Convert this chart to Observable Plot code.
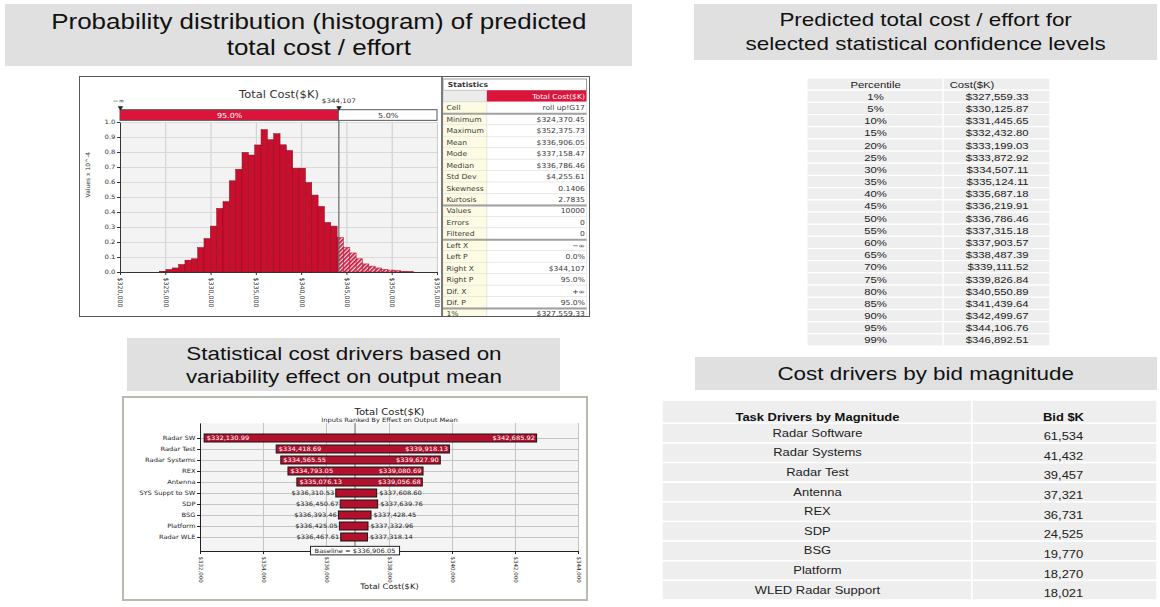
<!DOCTYPE html>
<html><head><meta charset="utf-8">
<script src="https://cdn.jsdelivr.net/npm/d3@7"></script>
<script src="https://cdn.jsdelivr.net/npm/@observablehq/plot@0.6"></script>
<style>
body{margin:0;background:#fff;}
#root{position:relative;width:1160px;height:607px;overflow:hidden;background:#fff;font-family:Arial,"Liberation Sans",sans-serif;color:#111;}
.hdr{position:absolute;background:#e0e0e0;display:flex;align-items:center;justify-content:center;text-align:center;}
.hdr span{display:inline-block;transform:scaleX(1.18);white-space:nowrap;}
.box{position:absolute;overflow:hidden;}
.box svg{display:block;max-width:none;}
.frame{position:absolute;box-sizing:border-box;pointer-events:none;}
</style></head><body>
<svg width="0" height="0" style="position:absolute"><defs>
<pattern id="hatch" patternUnits="userSpaceOnUse" width="3" height="3" patternTransform="rotate(45)"><rect width="3" height="3" fill="#f7dde2"/><rect width="1.7" height="3" fill="#c8143a"/></pattern>
</defs></svg>
<div id="root">
 <div class="hdr" style="left:5px;top:4px;width:627px;height:62px;font-size:22px;line-height:26px"><span>Probability distribution (histogram) of predicted<br>total cost / effort</span></div>
 <div class="hdr" style="left:694px;top:4px;width:463px;height:56px;font-size:19px;line-height:24px"><span>Predicted total cost / effort for<br>selected statistical confidence levels</span></div>
 <div class="hdr" style="left:127px;top:338px;width:433px;height:53px;font-size:19px;line-height:23px"><span>Statistical cost drivers based on<br>variability effect on output mean</span></div>
 <div class="hdr" style="left:695px;top:357px;width:462px;height:33px;font-size:19px;line-height:23px"><span>Cost drivers by bid magnitude</span></div>
</div>
<script>
// ---------------- data ----------------
const histDensity = [0.005, 0.017, 0.027, 0.050, 0.079, 0.088, 0.163, 0.223, 0.306, 0.424,
  0.469, 0.608, 0.685, 0.797, 0.780, 0.847, 0.949, 0.882, 0.922, 0.848,
  0.810, 0.692, 0.692, 0.596, 0.513, 0.437, 0.330, 0.306, 0.230, 0.164,
  0.127, 0.088, 0.054, 0.039, 0.027, 0.018, 0.013, 0.009, 0.005, 0.002];
const histMin = 324370.45, histMax = 352375.73;
const histXTicks = [320000, 325000, 330000, 335000, 340000, 345000, 350000, 355000];
const histYTicks = [0, 0.1, 0.2, 0.3, 0.4, 0.5, 0.6, 0.7, 0.8, 0.9, 1.0];
const cutValue = 344107;
const leftLabel = "95.0%", rightLabel = "5.0%";

const statLabels = ["Cell","Minimum","Maximum","Mean","Mode","Median","Std Dev","Skewness","Kurtosis",
  "Values","Errors","Filtered","Left X","Left P","Right X","Right P","Dif. X","Dif. P","1%"];
const statValues = ["roll up!G17","$324,370.45","$352,375.73","$336,906.05","$337,158.47","$336,786.46",
  "$4,255.61","0.1406","2.7835","10000","0","0","−∞","0.0%","$344,107","95.0%","+∞","95.0%","$327,559.33"];
const statGroupStarts = ["Minimum","Values","Left X","1%"];

const percentiles = ["1%","5%","10%","15%","20%","25%","30%","35%","40%","45%","50%",
  "55%","60%","65%","70%","75%","80%","85%","90%","95%","99%"];
const percentileCosts = [327559.33, 330125.87, 331445.65, 332432.80, 333199.03, 333872.92, 334507.11,
  335124.11, 335687.18, 336219.91, 336786.46, 337315.18, 337903.57, 338487.39, 339111.52,
  339826.84, 340550.89, 341439.64, 342499.67, 344106.76, 346892.51];

const driverNames = ["Radar SW","Radar Test","Radar Systems","REX","Antenna","SYS Suppt to SW","SDP","BSG","Platform","Radar WLE"];
const driverLow = [332130.99, 334418.69, 334565.55, 334793.05, 335076.13, 336310.53, 336450.67, 336393.46, 336425.05, 336467.61];
const driverHigh = [342685.92, 339918.13, 339627.90, 339080.69, 339056.68, 337608.60, 337639.76, 337428.45, 337332.96, 337318.14];
const baselineMean = 336906.05;
const tornadoTicks = [332000, 334000, 336000, 338000, 340000, 342000, 344000];

const bidTasks = ["Radar Software","Radar Systems","Radar Test","Antenna","REX","SDP","BSG","Platform","WLED Radar Support"];
const bidValues = [61534, 41432, 39457, 37321, 36731, 24525, 19770, 18270, 18021];

// ---------------- helpers ----------------
const root = document.getElementById("root");
const money2 = d3.format("$,.2f");
const money0 = d3.format("$,");
function place(el, left, top, w, h) {
  const d = document.createElement("div");
  d.className = "box";
  d.style.cssText = `left:${left}px;top:${top}px;width:${w}px;height:${h}px`;
  d.appendChild(el); root.appendChild(d); return d;
}
function frameDiv(left, top, w, h, css) {
  const d = document.createElement("div");
  d.className = "frame";
  d.style.cssText = `left:${left}px;top:${top}px;width:${w}px;height:${h}px;${css}`;
  root.appendChild(d);
}
// widen horizontal text about its anchor point (the reference is horizontally stretched)
function stretchText(svg, k) {
  svg.querySelectorAll("text").forEach(t => {
    const tr = t.getAttribute("transform") || "";
    if (/rotate/.test(tr)) return;
    t.setAttribute("transform", `${tr} scale(${k},1)`);
  });
}

// ---------------- histogram ----------------
const binW = (histMax - histMin) / histDensity.length;
const hbins = histDensity.map((v, i) => ({x1: histMin + i * binW, x2: histMin + (i + 1) * binW, v}));
const hist = Plot.plot({
  width: 361, height: 239, marginLeft: 40, marginRight: 4, marginTop: 45, marginBottom: 44,
  style: {fontFamily: "DejaVu Sans, sans-serif", fontSize: "6px", color: "#333", background: "transparent"},
  x: {domain: [320000, 355000]},
  y: {domain: [0, 1]},
  marks: [
    Plot.frame({fill: "#f3f3f3"}),
    Plot.gridX(histXTicks, {stroke: "#cdcdcd", strokeOpacity: 1}),
    Plot.gridY(histYTicks, {stroke: "#d9d9d9", strokeOpacity: 1}),
    Plot.rectY(hbins.filter(d => d.x1 < cutValue), {x1: "x1", x2: d => Math.min(d.x2, cutValue), y: "v", fill: "#c8102e", stroke: "#8c0a22", strokeWidth: 0.5}),
    Plot.rectY(hbins.filter(d => d.x2 > cutValue), {x1: d => Math.max(d.x1, cutValue), x2: "x2", y: "v", fill: "url(#hatch)", stroke: "#b8102c", strokeWidth: 0.5}),
    Plot.ruleX([cutValue], {y1: 0, y2: 1.082, stroke: "#6a6a6a", strokeWidth: 1.2}),
    Plot.frame({stroke: "#333", fill: "none", strokeDasharray: "0 467 467"}),
    Plot.axisX(histXTicks, {tickFormat: money0, tickRotate: 90, tickSize: 3, tickPadding: 2, label: null, fontSize: 6.3}),
    Plot.axisY(histYTicks, {tickFormat: d3.format(".1f"), tickSize: 3, tickPadding: 2, label: null}),
    Plot.text(["Values x 10^-4"], {frameAnchor: "left", dx: -32, rotate: -90, fontSize: 6}),
    Plot.rect([0], {x1: 320000, x2: cutValue, y1: 1.011, y2: 1.082, fill: "#dc143c", stroke: "#555"}),
    Plot.rect([0], {x1: cutValue, x2: 355000, y1: 1.011, y2: 1.082, fill: "white", stroke: "#555"}),
    Plot.text([leftLabel], {x: (320000 + cutValue) / 2, y: 1.047, fill: "white", fontSize: 7}),
    Plot.text([rightLabel], {x: (cutValue + 355000) / 2, y: 1.047, fill: "#333", fontSize: 7}),
    Plot.text([320000, cutValue], {x: d => d, y: 1.097, text: () => "▼", fill: "#222", fontSize: 6}),
    Plot.text(["−∞"], {x: 320000, y: 1.145, dx: -2, fontSize: 6.2}),
    Plot.text([cutValue], {x: d => d, y: 1.145, text: d => money0(d), fontSize: 6.2}),
    Plot.text(["Total Cost($K)"], {frameAnchor: "top", dy: -32, fontSize: 10, fill: "#333"})
  ]
});
place(hist, 80, 77, 361, 239);
stretchText(hist, 1.15);

// ---------------- statistics table ----------------
const statRows = statLabels.map((l, i) => ({label: l, value: statValues[i], i: i + 2}));
const sepRows = statRows.filter(d => statGroupStarts.includes(d.label));
const sSplit = 0.303;
const stats = Plot.plot({
  width: 145, height: 243, marginTop: 2, marginBottom: 0.5, marginLeft: 0, marginRight: 0,
  style: {fontFamily: "DejaVu Sans, sans-serif", fontSize: "6.9px", color: "#444", background: "transparent"},
  x: {domain: [0, 1], axis: null},
  y: {domain: [-0.5, 20.5], reverse: true, axis: null},
  marks: [
    Plot.rect([0], {x1: 0, x2: 0.99, y1: -0.5, y2: 0.5, fill: "white", stroke: "#9a9a9a"}),
    Plot.text(["Statistics"], {x: 0.03, y: 0, textAnchor: "start", fontWeight: "bold", fill: "#333"}),
    Plot.rect([0], {x1: 0, x2: sSplit, y1: 0.5, y2: 1.5, fill: "#ececec", stroke: "#cccccc"}),
    Plot.rect([0], {x1: sSplit, x2: 0.99, y1: 0.5, y2: 1.5, fill: "#dc143c"}),
    Plot.text(["Total Cost($K)"], {x: 0.975, y: 1, textAnchor: "end", fill: "white"}),
    Plot.rect(statRows, {x1: 0, x2: sSplit, y1: d => d.i - 0.5, y2: d => d.i + 0.5, fill: "#fdfbe2", stroke: "#e2e2e2", strokeWidth: 0.6}),
    Plot.rect(statRows, {x1: sSplit, x2: 0.99, y1: d => d.i - 0.5, y2: d => d.i + 0.5, fill: "white", stroke: "#e2e2e2", strokeWidth: 0.6}),
    Plot.ruleY(sepRows, {y: d => d.i - 0.5, x1: 0, x2: 0.99, stroke: "#a0a0a0", strokeWidth: 2}),
    Plot.text(statRows, {x: 0.02, y: "i", text: "label", textAnchor: "start", fill: "#3a3a3a"}),
    Plot.text(statRows, {x: 0.975, y: "i", text: "value", textAnchor: "end", fill: "#3a3a3a"})
  ]
});
place(stats, 443, 77, 145, 239);
stretchText(stats, 1.1);

// ---------------- percentile table ----------------
const pRows = percentiles.map((p, i) => ({p, c: percentileCosts[i], i: i + 1}));
const pAll = [{i: 0}, ...pRows];
const pSplit = 0.56;
const ptab = Plot.plot({
  width: 243, height: 270, marginTop: 1, marginBottom: 1, marginLeft: 0, marginRight: 0,
  style: {fontFamily: "Arial, Liberation Sans, sans-serif", fontSize: "9.6px", color: "#222", background: "transparent"},
  x: {domain: [0, 1], axis: null},
  y: {domain: [-0.5, 21.5], reverse: true, axis: null},
  marks: [
    Plot.rect(pAll, {x1: 0, x2: pSplit, y1: d => d.i - 0.5, y2: d => d.i + 0.5, fill: "#eeeeee", stroke: "white", strokeWidth: 1.2}),
    Plot.rect(pAll, {x1: pSplit, x2: 1, y1: d => d.i - 0.5, y2: d => d.i + 0.5, fill: "#eeeeee", stroke: "white", strokeWidth: 1.2}),
    Plot.text(["Percentile"], {x: 0.28, y: 0}),
    Plot.text(["Cost($K)"], {x: 0.585, y: 0, textAnchor: "start"}),
    Plot.text(pRows, {x: 0.28, y: "i", text: "p"}),
    Plot.text(pRows, {x: 0.91, y: "i", text: d => money2(d.c), textAnchor: "end"})
  ]
});
place(ptab, 807, 77, 243, 270);
stretchText(ptab, 1.18);

// ---------------- tornado ----------------
const drivers = driverNames.map((n, i) => ({name: n, low: driverLow[i], high: driverHigh[i]}));
const wide = d => d.high - d.low > 2000;
const baseText = `Baseline = ${money2(baselineMean)}`;
const torn = Plot.plot({
  width: 464, height: 202, marginLeft: 77, marginRight: 9, marginTop: 25, marginBottom: 49,
  style: {fontFamily: "DejaVu Sans, sans-serif", fontSize: "6px", color: "#222", background: "transparent"},
  x: {domain: [332000, 344000]},
  y: {domain: driverNames, paddingInner: 0.3, paddingOuter: 0.69},
  marks: [
    Plot.frame({fill: "#f4f4f4"}),
    Plot.gridX(tornadoTicks, {stroke: "#c4c4c4", strokeOpacity: 1}),
    Plot.gridY({stroke: "#c4c4c4", strokeOpacity: 1}),
    Plot.ruleX([baselineMean], {stroke: "#666"}),
    Plot.barX(drivers, {x1: "low", x2: "high", y: "name", fill: "#b2102d", stroke: "#151515", strokeWidth: 1}),
    Plot.text(drivers.filter(wide), {x: "low", y: "name", text: d => money2(d.low), textAnchor: "start", dx: 2, fill: "white"}),
    Plot.text(drivers.filter(wide), {x: "high", y: "name", text: d => money2(d.high), textAnchor: "end", dx: -2, fill: "white"}),
    Plot.text(drivers.filter(d => !wide(d)), {x: "low", y: "name", text: d => money2(d.low), textAnchor: "end", dx: -2, fill: "#222"}),
    Plot.text(drivers.filter(d => !wide(d)), {x: "high", y: "name", text: d => money2(d.high), textAnchor: "start", dx: 2, fill: "#222"}),
    Plot.frame({stroke: "#222", fill: "none", strokeDasharray: "0 506 506"}),
    Plot.axisY({tickSize: 3, tickPadding: 2, label: null}),
    Plot.axisX(tornadoTicks, {tickFormat: money0, tickRotate: 90, tickSize: 3, tickPadding: 2, label: null, fontSize: 5.5}),
    Plot.text(["Total Cost($K)"], {frameAnchor: "top", dy: -15, fontSize: 9}),
    Plot.text(["Inputs Ranked By Effect on Output Mean"], {frameAnchor: "top", dy: -6, fontSize: 6}),
    Plot.text(["Total Cost($K)"], {frameAnchor: "bottom", dy: 37, fontSize: 7.5}),
    Plot.text([baseText], {x: baselineMean, frameAnchor: "bottom", dy: 1, fontSize: 6})
  ]
});
place(torn, 123, 398, 464, 202);
stretchText(torn, 1.12);
// white box behind baseline label
(() => {
  const t = [...torn.querySelectorAll("text")].find(e => e.textContent === baseText);
  if (!t) return;
  const sr = torn.getBoundingClientRect(), r = t.getBoundingClientRect();
  const rect = document.createElementNS("http://www.w3.org/2000/svg", "rect");
  rect.setAttribute("x", r.left - sr.left - 4); rect.setAttribute("y", r.top - sr.top - 0.5);
  rect.setAttribute("width", r.width + 8); rect.setAttribute("height", r.height + 1);
  rect.setAttribute("fill", "white"); rect.setAttribute("stroke", "#222"); rect.setAttribute("stroke-width", "1");
  const g = t.parentNode; g.parentNode.insertBefore(rect, g);
})();

// ---------------- bid table ----------------
const bRows = bidTasks.map((t, i) => ({t, v: bidValues[i], i: i + 1}));
const bSplit = 0.626;
const btab = Plot.plot({
  width: 495, height: 201, marginTop: 0, marginBottom: 1, marginLeft: 0, marginRight: 0,
  style: {fontFamily: "Arial, Liberation Sans, sans-serif", fontSize: "11px", color: "#222", background: "transparent"},
  x: {domain: [0, 1], axis: null},
  y: {domain: [-0.69, 9.5], reverse: true, axis: null},
  marks: [
    Plot.rect([0], {x1: 0, x2: bSplit, y1: -0.69, y2: 0.5, fill: "#eeeeee", stroke: "white", strokeWidth: 1.5}),
    Plot.rect([0], {x1: bSplit, x2: 1, y1: -0.69, y2: 0.5, fill: "#eeeeee", stroke: "white", strokeWidth: 1.5}),
    Plot.rect(bRows, {x1: 0, x2: bSplit, y1: d => d.i - 0.5, y2: d => d.i + 0.5, fill: "#eeeeee", stroke: "white", strokeWidth: 1.5}),
    Plot.rect(bRows, {x1: bSplit, x2: 1, y1: d => d.i - 0.5, y2: d => d.i + 0.5, fill: "#eeeeee", stroke: "white", strokeWidth: 1.5}),
    Plot.text(["Task Drivers by Magnitude"], {x: bSplit / 2, y: 0, dy: 3.5, fontWeight: "bold", fill: "#111"}),
    Plot.text(["Bid $K"], {x: 0.81, y: 0, dy: 3.5, fontWeight: "bold", fill: "#111"}),
    Plot.text(bRows, {x: bSplit / 2, y: "i", dy: -0.5, text: "t"}),
    Plot.text(bRows, {x: 0.81, y: "i", dy: 3, text: d => d3.format(",")(d.v)})
  ]
});
place(btab, 662, 400, 495, 201);
stretchText(btab, 1.18);

// ---------------- panel frames ----------------
frameDiv(79, 76, 511, 241, "border:1.5px solid #5a5a5a;");
frameDiv(441, 77, 2, 239, "background:#7a7a7a;");
frameDiv(122, 396, 466, 205, "border:2px solid #b5bdb0;");
</script>
</body></html>
